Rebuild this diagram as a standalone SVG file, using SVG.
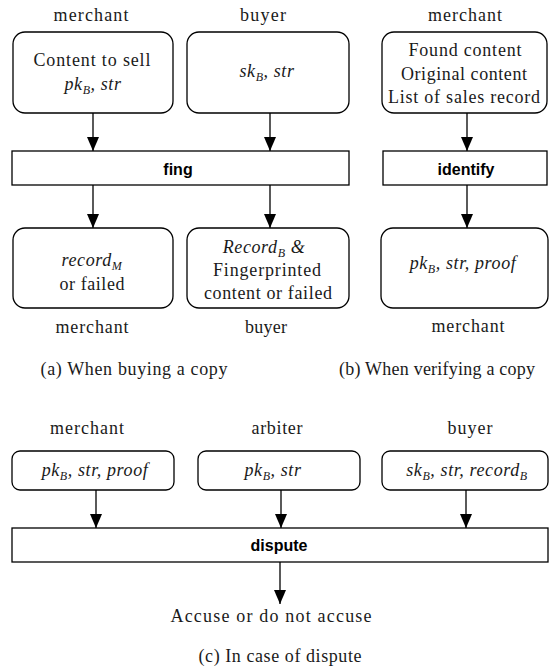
<svg xmlns="http://www.w3.org/2000/svg" width="550" height="671" viewBox="0 0 550 671">
<style>
.t{font-family:"Liberation Serif","Times New Roman",serif;font-size:18px;fill:#1a1a1a;text-anchor:middle}
.i{font-style:italic;letter-spacing:0.6px}
.s{font-size:12px}
.b{font-family:"Liberation Sans",Arial,sans-serif;font-weight:bold;font-size:16px;fill:#000;text-anchor:middle}
.box{fill:#fff;stroke:#000;stroke-width:1.3}
.con{stroke:#000;stroke-width:1.3;fill:none;marker-end:url(#arr)}
</style>
<defs>
<marker id="arr" markerWidth="14" markerHeight="12" refX="14" refY="6" orient="auto" markerUnits="userSpaceOnUse">
<path d="M0,0 L14,6 L0,12 z" fill="#000"/>
</marker>
</defs>
<rect width="550" height="671" fill="#fff"/>

<g id="labels">
<text class="t" x="91" y="21" textLength="75">merchant</text>
<text class="t" x="263" y="21" textLength="46">buyer</text>
<text class="t" x="465" y="21" textLength="74">merchant</text>
<text class="t" x="92" y="333" textLength="73">merchant</text>
<text class="t" x="266" y="333" textLength="42">buyer</text>
<text class="t" x="468" y="332" textLength="73">merchant</text>
<text class="t" x="134" y="375" textLength="187">(a) When buying a copy</text>
<text class="t" x="437" y="375" textLength="196">(b) When verifying a copy</text>
<text class="t" x="87" y="434" textLength="74">merchant</text>
<text class="t" x="277" y="434" textLength="51">arbiter</text>
<text class="t" x="470" y="434" textLength="45">buyer</text>
<text class="t" x="271" y="622" textLength="201">Accuse or do not accuse</text>
<text class="t" x="280" y="662" textLength="163">(c) In case of dispute</text>
</g>

<g id="connectors">
<line class="con" x1="93" y1="113" x2="93" y2="151"/>
<line class="con" x1="270" y1="113" x2="270" y2="151"/>
<line class="con" x1="467" y1="113" x2="467" y2="151"/>
<line class="con" x1="93" y1="185" x2="93" y2="228"/>
<line class="con" x1="270" y1="185" x2="270" y2="228"/>
<line class="con" x1="467" y1="185" x2="467" y2="228"/>
<line class="con" x1="96" y1="490" x2="96" y2="528"/>
<line class="con" x1="281" y1="490" x2="281" y2="528"/>
<line class="con" x1="466" y1="490" x2="466" y2="528"/>
<line class="con" x1="280" y1="562" x2="280" y2="604"/>
</g>

<g id="merchant-content">
<rect class="box" x="13" y="32" width="160" height="81" rx="12"/>
<text class="t" x="92" y="66" textLength="117">Content to sell</text>
<text class="t i" x="93" y="90">pk<tspan class="s" dy="4">B</tspan><tspan dy="-4">, str</tspan></text>
</g>
<g id="buyer-keys">
<rect class="box" x="187" y="32" width="162" height="81" rx="12"/>
<text class="t i" x="267" y="77">sk<tspan class="s" dy="4">B</tspan><tspan dy="-4">, str</tspan></text>
</g>
<g id="merchant-found">
<rect class="box" x="382" y="32" width="165" height="81" rx="12"/>
<text class="t" x="465" y="56" textLength="113">Found content</text>
<text class="t" x="464" y="80" textLength="126">Original content</text>
<text class="t" x="464" y="103" textLength="152">List of sales record</text>
</g>
<g id="fing">
<rect class="box" x="12" y="151" width="337" height="34"/>
<text class="b" x="178" y="175">fing</text>
</g>
<g id="identify">
<rect class="box" x="383" y="151" width="164" height="34"/>
<text class="b" x="466" y="175">identify</text>
</g>
<g id="merchant-record">
<rect class="box" x="13" y="228" width="160" height="80" rx="12"/>
<text class="t i" x="92" y="266">record<tspan class="s" dy="4">M</tspan></text>
<text class="t" x="92" y="290" textLength="65">or failed</text>
</g>
<g id="buyer-record">
<rect class="box" x="187" y="228" width="162" height="80" rx="12"/>
<text class="t i" x="264" y="253">Record<tspan class="s" dy="4">B</tspan><tspan dy="-4"> &amp;</tspan></text>
<text class="t" x="267" y="276" textLength="108">Fingerprinted</text>
<text class="t" x="268" y="299" textLength="128">content or failed</text>
</g>
<g id="merchant-proof">
<rect class="box" x="381" y="228" width="167" height="80" rx="12"/>
<text class="t i" x="463" y="269">pk<tspan class="s" dy="4">B</tspan><tspan dy="-4">, str, proof</tspan></text>
</g>
<g id="dispute-merchant">
<rect class="box" x="12" y="451" width="162" height="39" rx="8"/>
<text class="t i" x="95" y="476">pk<tspan class="s" dy="4">B</tspan><tspan dy="-4">, str, proof</tspan></text>
</g>
<g id="dispute-arbiter">
<rect class="box" x="198" y="451" width="162" height="39" rx="8"/>
<text class="t i" x="273" y="476">pk<tspan class="s" dy="4">B</tspan><tspan dy="-4">, str</tspan></text>
</g>
<g id="dispute-buyer">
<rect class="box" x="382" y="451" width="166" height="39" rx="8"/>
<text class="t i" x="467" y="476">sk<tspan class="s" dy="4">B</tspan><tspan dy="-4">, str, record</tspan><tspan class="s" dy="4">B</tspan></text>
</g>
<g id="dispute">
<rect class="box" x="12" y="528" width="536" height="34"/>
<text class="b" x="279" y="551">dispute</text>
</g>
</svg>
